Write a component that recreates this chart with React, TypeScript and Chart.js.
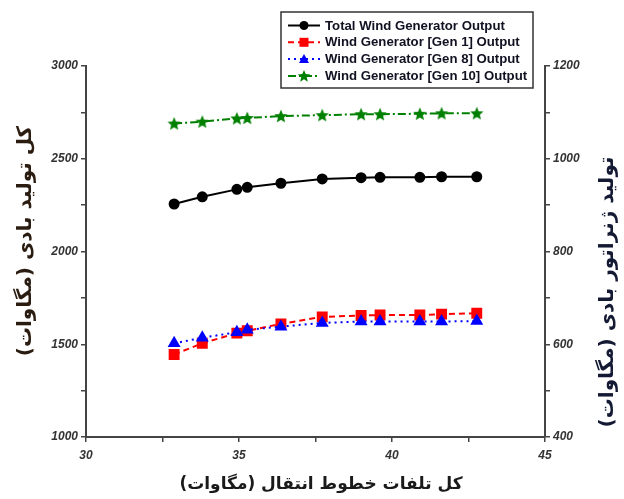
import React, { useEffect, useRef } from "react";
import { Chart, registerables } from "chart.js";

Chart.register(...registerables);

const xLoss = [32.88, 33.8, 34.93, 35.27, 36.37, 37.72, 38.99, 39.61, 40.91, 41.62, 42.77];
const totalOutput = [2256, 2295, 2335, 2346, 2368, 2391, 2398, 2400, 2400, 2403, 2403];
const gen1Output = [578, 602, 624, 629, 644, 659, 662, 663, 663, 665, 667];
const gen8Output = [602, 614, 626, 631, 638, 646, 649, 649, 649, 649, 650];
const gen10Output = [1076, 1080, 1087, 1088, 1092, 1094, 1096, 1096, 1097, 1098, 1098];

const seriesLabels = [
  "Total Wind Generator Output",
  "Wind Generator [Gen 1] Output",
  "Wind Generator [Gen 8] Output",
  "Wind Generator [Gen 10] Output",
];
const xTitle = "کل تلفات خطوط انتقال (مگاوات)";
const yLeftTitle = "کل تولید بادی (مگاوات)";
const yRightTitle = "تولید ژنراتور بادی (مگاوات)";

const xTicks = [30, 35, 40, 45];
const yLeftTicks = [1000, 1500, 2000, 2500, 3000];
const yRightTicks = [400, 600, 800, 1000, 1200];

const toPoints = (ys: number[]) => ys.map((y, i) => ({ x: xLoss[i], y }));

function starPath(g: CanvasRenderingContext2D, cx: number, cy: number, R: number) {
  const r = R * 0.45;
  g.beginPath();
  for (let i = 0; i < 10; i++) {
    const a = -Math.PI / 2 + (i * Math.PI) / 5;
    const rad = i % 2 === 0 ? R : r;
    const px = cx + rad * Math.cos(a);
    const py = cy + rad * Math.sin(a);
    if (i === 0) g.moveTo(px, py);
    else g.lineTo(px, py);
  }
  g.closePath();
}

function makeStar(size: number, color: string) {
  const c = document.createElement("canvas");
  c.width = size;
  c.height = size;
  const g = c.getContext("2d")!;
  g.fillStyle = color;
  starPath(g, size / 2, size / 2 + 0.5, size / 2);
  g.fill();
  return c;
}

export default function App() {
  const ref = useRef<HTMLCanvasElement>(null);

  useEffect(() => {
    const star = makeStar(14, "#008000");
    const tickFont = { family: "'Liberation Sans', Arial, sans-serif", size: 12, style: "italic" as const, weight: "bold" as const };

    const overlay = {
      id: "overlay",
      afterDraw(chart: any) {
        const ctx = chart.ctx as CanvasRenderingContext2D;
        ctx.save();
        // Axis titles
        ctx.fillStyle = "#1a1a1a";
        ctx.direction = "rtl";
        ctx.textAlign = "center";
        ctx.textBaseline = "middle";
        ctx.font = "bold 17px 'DejaVu Sans', sans-serif";
        ctx.fillText(xTitle, 321, 485);
        ctx.font = "bold 20px 'DejaVu Sans', sans-serif";
        ctx.save();
        ctx.translate(26, 241);
        ctx.rotate(-Math.PI / 2);
        ctx.fillStyle = "#2a1c10";
        ctx.fillText(yLeftTitle, 0, 0);
        ctx.restore();
        ctx.save();
        ctx.translate(608, 292);
        ctx.rotate(-Math.PI / 2);
        ctx.fillStyle = "#141a33";
        ctx.fillText(yRightTitle, 0, 0);
        ctx.restore();
        ctx.direction = "ltr";

        // Legend box
        ctx.fillStyle = "#ffffff";
        ctx.fillRect(281, 12, 252, 76);
        ctx.strokeStyle = "#333";
        ctx.lineWidth = 1.5;
        ctx.strokeRect(281, 12, 252, 76);
        const colors = ["#000000", "#ff0000", "#0000ff", "#008000"];
        const dashes = [[], [6, 4], [2, 4], [8, 3, 2, 3]];
        for (let i = 0; i < 4; i++) {
          const y = 25.5 + i * 16.8;
          ctx.strokeStyle = colors[i];
          ctx.lineWidth = 2;
          ctx.setLineDash(dashes[i]);
          ctx.beginPath();
          ctx.moveTo(288, y);
          ctx.lineTo(320, y);
          ctx.stroke();
          ctx.setLineDash([]);
          ctx.fillStyle = colors[i];
          const cx = 304;
          if (i === 0) {
            ctx.beginPath();
            ctx.arc(cx, y, 4.5, 0, Math.PI * 2);
            ctx.fill();
          } else if (i === 1) {
            ctx.fillRect(cx - 4.5, y - 4.5, 9, 9);
          } else if (i === 2) {
            ctx.beginPath();
            ctx.moveTo(cx, y - 5);
            ctx.lineTo(cx + 5, y + 4);
            ctx.lineTo(cx - 5, y + 4);
            ctx.closePath();
            ctx.fill();
          } else {
            starPath(ctx, cx, y + 0.5, 6.5);
            ctx.fill();
          }
          ctx.fillStyle = "#111122";
          ctx.textAlign = "left";
          ctx.textBaseline = "middle";
          ctx.font = "bold 13.2px 'Liberation Sans', Arial, sans-serif";
          ctx.fillText(seriesLabels[i], 325, y + 0.5);
        }
        ctx.restore();
      },
    };

    const chart = new Chart(ref.current!, {
      type: "line",
      data: {
        datasets: [
          {
            label: seriesLabels[0],
            data: toPoints(totalOutput),
            yAxisID: "y",
            borderColor: "#000000",
            backgroundColor: "#000000",
            borderWidth: 2,
            pointStyle: "circle",
            pointRadius: 4.5,
            order: 0,
          },
          {
            label: seriesLabels[1],
            data: toPoints(gen1Output),
            yAxisID: "y1",
            borderColor: "#ff0000",
            backgroundColor: "#ff0000",
            borderWidth: 2,
            borderDash: [6, 4],
            pointStyle: "rect",
            pointRadius: 6.3,
            order: 2,
          },
          {
            label: seriesLabels[2],
            data: toPoints(gen8Output),
            yAxisID: "y1",
            borderColor: "#0000ff",
            backgroundColor: "#0000ff",
            borderWidth: 2,
            borderDash: [2, 4],
            pointStyle: "triangle",
            pointRadius: 5.5,
            order: 1,
          },
          {
            label: seriesLabels[3],
            data: toPoints(gen10Output),
            yAxisID: "y1",
            borderColor: "#008000",
            backgroundColor: "#008000",
            borderWidth: 2,
            borderDash: [8, 3, 2, 3],
            pointStyle: star as any,
            pointRadius: 7,
            order: 3,
          },
        ],
      },
      options: {
        animation: false,
        responsive: true,
        maintainAspectRatio: false,
        layout: { padding: { top: 66, left: 0, right: 0, bottom: 0 } },
        plugins: { legend: { display: false }, tooltip: { enabled: false } },
        scales: {
          x: {
            type: "linear",
            min: 30,
            max: 45,
            afterFit: (s: any) => { s.height = 62; },
            afterBuildTicks: (s: any) => {
              const t: any[] = [];
              for (let v = 30; v <= 45; v += 2.5) t.push({ value: v });
              s.ticks = t;
            },
            ticks: {
              autoSkip: false,
              maxRotation: 0,
              padding: 6,
              color: "#333",
              font: tickFont,
              callback: (v: any) => (xTicks.includes(Number(v)) ? String(v) : ""),
            },
            grid: { display: true, drawOnChartArea: false, drawTicks: true, tickLength: 5, color: "#444", lineWidth: 1.5 },
            border: { display: true, color: "#444", width: 2 },
          },
          y: {
            type: "linear",
            position: "left",
            min: 1000,
            max: 3000,
            afterFit: (s: any) => { s.width = 86; },
            afterBuildTicks: (s: any) => {
              const t: any[] = [];
              for (let v = 1000; v <= 3000; v += 250) t.push({ value: v });
              s.ticks = t;
            },
            ticks: {
              autoSkip: false,
              padding: 3,
              color: "#333",
              font: tickFont,
              callback: (v: any) => (yLeftTicks.includes(Number(v)) ? String(v) : ""),
            },
            grid: { display: true, drawOnChartArea: false, drawTicks: true, tickLength: 5, color: "#444", lineWidth: 1.5 },
            border: { display: true, color: "#444", width: 2 },
          },
          y1: {
            type: "linear",
            position: "right",
            min: 400,
            max: 1200,
            afterFit: (s: any) => { s.width = 79; },
            afterBuildTicks: (s: any) => {
              const t: any[] = [];
              for (let v = 400; v <= 1200; v += 100) t.push({ value: v });
              s.ticks = t;
            },
            ticks: {
              autoSkip: false,
              padding: 3,
              color: "#333",
              font: tickFont,
              callback: (v: any) => (yRightTicks.includes(Number(v)) ? String(v) : ""),
            },
            grid: { display: true, drawOnChartArea: false, drawTicks: true, tickLength: 5, color: "#444", lineWidth: 1.5 },
            border: { display: true, color: "#444", width: 2 },
          },
        },
      },
      plugins: [overlay],
    });
    return () => chart.destroy();
  }, []);

  return (
    <div style={{ position: "absolute", left: 0, top: 0, width: 624, height: 499, background: "#fff" }}>
      <canvas ref={ref} />
    </div>
  );
}
